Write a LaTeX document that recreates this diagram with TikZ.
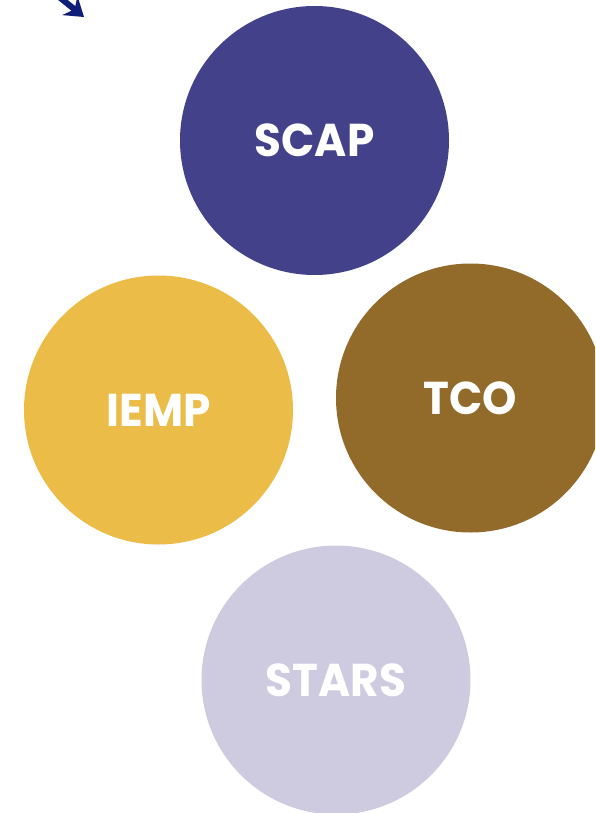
\documentclass[tikz,border=0pt]{standalone}
\usepackage{fontspec}
\setmainfont{Poppins}[FakeStretch=0.95]
\usetikzlibrary{positioning}
\usetikzlibrary{arrows.meta}

\definecolor{scapblue}{HTML}{43418A}
\definecolor{iempgold}{HTML}{ECBC48}
\definecolor{tcobrown}{HTML}{926B2B}
\definecolor{starslilac}{HTML}{CECBE1}
\definecolor{arrownavy}{HTML}{0F1E78}

\begin{document}
\begin{tikzpicture}[x=1pt, y=-1pt]

  \tikzstyle{program}=[circle, minimum size = 269pt, inner sep = 0pt, text = white,
                       font = \fontsize{46}{50}\selectfont\bfseries]
  \tikzstyle{pointer}=[-{Stealth[length=18pt, width=24pt]}, line width = 6pt, draw = arrownavy]

  \useasboundingbox (0,0) rectangle (595,813);
  \clip (0,0) rectangle (595,813);

  \node[program, fill = scapblue] (scap) at (314.5,140.5) { SCAP };
  \node[program, fill = iempgold] (iemp) at (158.5,410) { IEMP };
  \node[program, fill = tcobrown] (tco) at (470.5,398) { TCO };
  \node[program, fill = starslilac] (stars) at (336,680) { STARS };

  \coordinate (tail) at (48,-12);
  \coordinate (tip) at (84,17);
  \path (tail) edge [pointer] (tip);

\end{tikzpicture}
\end{document}
